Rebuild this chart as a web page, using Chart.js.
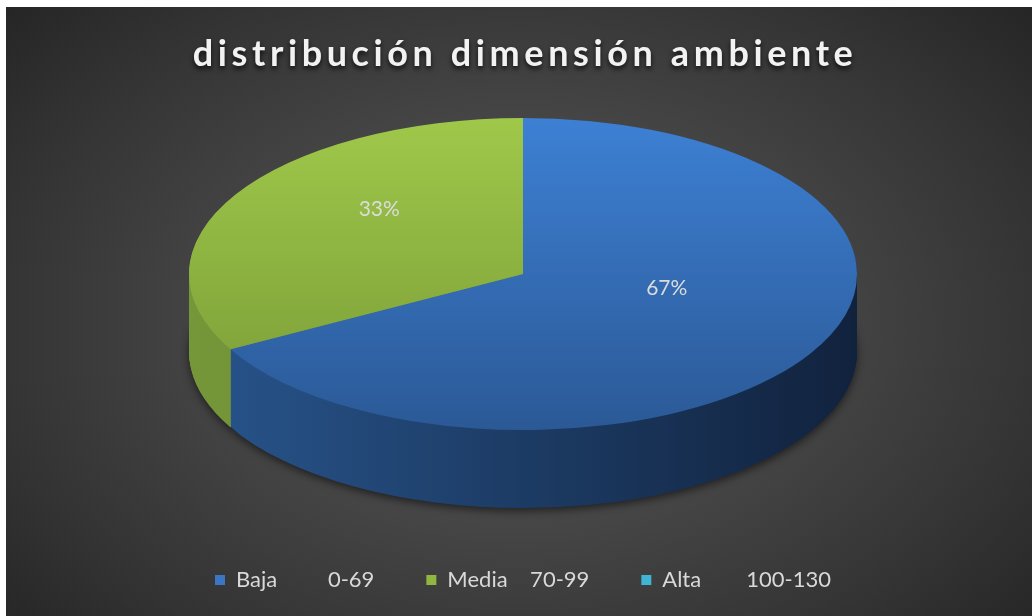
<!DOCTYPE html>
<html>
<head>
<meta charset="utf-8">
<script src="https://cdn.jsdelivr.net/npm/chart.js@4"></script>
<style>
  html, body { margin: 0; padding: 0; background: #ffffff; }
  #marco {
    position: absolute; left: 6px; top: 7px; width: 1026px; height: 609px;
    background: radial-gradient(ellipse 68% 78% at 50% 52%, #575757 0%, #474747 40%, #343434 75%, #252525 100%);
  }
</style>
</head>
<body>
<div id="marco"><canvas id="myChart" width="1026" height="609"></canvas></div>
<script>
// datos del grafico
const titulo = 'distribución dimensión ambiente';
const etiquetas = ['Baja         0-69', 'Media    70-99', 'Alta        100-130'];
const porcentajes = [67, 33, 0];

// colores (cara superior arriba/abajo, lateral izq/der, leyenda)
const coloresArriba = [['#3d80d4', '#2b5996'], ['#9fc84a', '#789a36'], ['#4bb8d8', '#2f8fab']];
const coloresLado = [['#28558c', '#11223d'], ['#76963a', '#5e7a26'], ['#2f8fab', '#1d5f72']];
const coloresLeyenda = ['#3a76c4', '#8fb63f', '#3fb4d4'];

// forma del pastel 3d
const PIE_RX = 334;
const PIE_RY = 156;
const PIE_DEPTH = 78;

Chart.defaults.font.family = 'Lato';

function gradienteArriba(context) {
  const chart = context.chart;
  const area = chart.chartArea;
  if (!area) return coloresLeyenda[context.dataIndex];
  const cy = (area.top + area.bottom) / 2;
  const r = Math.min(area.right - area.left, area.bottom - area.top) / 2;
  const g = chart.ctx.createLinearGradient(0, cy - r, 0, cy + r);
  const c = coloresArriba[context.dataIndex];
  g.addColorStop(0, c[0]);
  g.addColorStop(1, c[1]);
  return g;
}

// dibuja el lateral y aplasta la cara superior
const pie3d = {
  id: 'pie3d',
  beforeDatasetsDraw(chart) {
    const ctx = chart.ctx;
    const arcs = chart.getDatasetMeta(0).data;
    const cx = arcs[0].x, cy = arcs[0].y, r = arcs[0].outerRadius;
    const sx = PIE_RX / r, sy = PIE_RY / r;
    const ty = cy - PIE_DEPTH / 2;

    for (let d = PIE_DEPTH; d >= 1; d--) {
      ctx.save();
      if (d === PIE_DEPTH) {
        ctx.shadowColor = 'rgba(0,0,0,0.55)';
        ctx.shadowBlur = 8;
        ctx.shadowOffsetY = 3;
      }
      ctx.translate(cx, ty + d);
      ctx.scale(sx, sy);
      arcs.forEach((arc, i) => {
        if (arc.endAngle - arc.startAngle <= 0) return;
        const g = ctx.createLinearGradient(-r, 0, r, 0);
        g.addColorStop(0, coloresLado[i][0]);
        g.addColorStop(1, coloresLado[i][1]);
        ctx.fillStyle = g;
        ctx.beginPath();
        ctx.moveTo(0, 0);
        ctx.arc(0, 0, r, arc.startAngle, arc.endAngle);
        ctx.closePath();
        ctx.fill();
      });
      ctx.restore();
    }

    ctx.save();
    ctx.translate(cx, ty);
    ctx.scale(sx, sy);
    ctx.translate(-cx, -cy);
  },
  afterDatasetsDraw(chart) {
    const ctx = chart.ctx;
    ctx.restore();

    // etiquetas de porcentaje
    const arcs = chart.getDatasetMeta(0).data;
    const cx = arcs[0].x, ty = arcs[0].y - PIE_DEPTH / 2;
    ctx.save();
    ctx.font = '21px Lato';
    ctx.fillStyle = '#dcdcdc';
    ctx.textAlign = 'center';
    ctx.textBaseline = 'middle';
    arcs.forEach((arc, i) => {
      if (!porcentajes[i]) return;
      const mid = (arc.startAngle + arc.endAngle) / 2;
      const x = cx + Math.cos(mid) * PIE_RX * 0.5;
      const y = ty + Math.sin(mid) * PIE_RY * 0.5 - 25;
      ctx.fillText(porcentajes[i] + '%', x, y);
    });
    ctx.restore();
  },
  afterDraw(chart) {
    const ctx = chart.ctx;
    const area = chart.chartArea;
    ctx.save();
    ctx.font = 'bold 36px Lato';
    ctx.letterSpacing = '4.6px';
    ctx.fillStyle = '#f2f2f2';
    ctx.textAlign = 'center';
    ctx.textBaseline = 'alphabetic';
    ctx.shadowColor = 'rgba(0,0,0,0.75)';
    ctx.shadowBlur = 5;
    ctx.shadowOffsetY = 3;
    ctx.fillText(titulo, (area.left + area.right) / 2 + 2, 59);
    ctx.restore();
  }
};

const ctx = document.getElementById('myChart').getContext('2d');
new Chart(ctx, {
  type: 'pie',
  data: {
    labels: etiquetas,
    datasets: [{
      data: porcentajes,
      backgroundColor: gradienteArriba,
      borderWidth: 0
    }]
  },
  options: {
    responsive: false,
    animation: false,
    events: [],
    layout: { padding: { top: 102, left: 8, right: 0, bottom: 15 } },
    plugins: {
      title: { display: false },
      tooltip: { enabled: false },
      legend: {
        position: 'bottom',
        labels: {
          color: '#d9d9d9',
          font: { size: 22 },
          boxWidth: 10,
          boxHeight: 10,
          padding: 52,
          generateLabels: () => etiquetas.map((t, i) => ({
            text: t,
            fillStyle: coloresLeyenda[i],
            strokeStyle: coloresLeyenda[i],
            lineWidth: 0,
            fontColor: '#d9d9d9',
            hidden: false,
            index: i
          }))
        }
      }
    }
  },
  plugins: [pie3d]
});
</script>
</body>
</html>
